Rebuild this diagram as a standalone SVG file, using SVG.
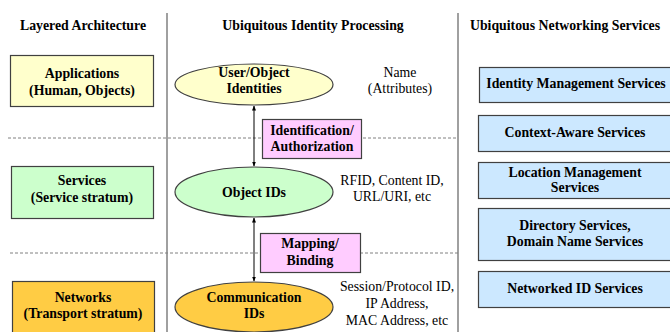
<svg xmlns="http://www.w3.org/2000/svg" width="670" height="332" viewBox="0 0 670 332">
<defs>
<marker id="ah" viewBox="0 0 10 10" refX="9" refY="5" markerWidth="5" markerHeight="5" orient="auto-start-reverse">
<path d="M0,1 L10,5 L0,9 z" fill="#000"/>
</marker>
<style>
text{font-family:"Liberation Serif","Times New Roman",serif;font-size:13.8px;fill:#000;text-anchor:middle}
.b{font-weight:bold}
.h{font-weight:bold;font-size:13.8px}
.box{stroke:#404040;stroke-width:1.2}
.yel{fill:#FFFFCC}.grn{fill:#CCFFCC}.org{fill:#FFCC44}.pnk{fill:#FFCCFF}.blu{fill:#CCE8FF}
.sep{stroke:#808080;stroke-width:1.5}
.dash{stroke:#808080;stroke-width:1;stroke-dasharray:3,2}
.conn{stroke:#000;stroke-width:1;fill:none;marker-start:url(#ah);marker-end:url(#ah)}
</style>
</defs>
<rect width="670" height="332" fill="#fff"/>
<g id="separators">
<line class="sep" x1="167" y1="13" x2="167" y2="332"/>
<line class="sep" x1="458" y1="13" x2="458" y2="332"/>
<line class="dash" x1="8" y1="138" x2="458" y2="138"/>
<line class="dash" x1="10" y1="253" x2="458" y2="253"/>
</g>
<g id="headings">
<text class="h" x="83" y="30">Layered Architecture</text>
<text class="h" x="313" y="30">Ubiquitous Identity Processing</text>
<text class="h" x="565" y="30">Ubiquitous Networking Services</text>
</g>
<g id="applications">
<rect class="box yel" x="10.5" y="55.5" width="143" height="51"/>
<text class="b" x="82" y="78">Applications</text>
<text class="b" x="82" y="95">(Human, Objects)</text>
</g>
<g id="services">
<rect class="box grn" x="11.5" y="166.5" width="142" height="52"/>
<text class="b" x="82" y="185">Services</text>
<text class="b" x="82" y="202">(Service stratum)</text>
</g>
<g id="networks">
<rect class="box org" x="12.5" y="281.5" width="142" height="56"/>
<text class="b" x="83" y="302">Networks</text>
<text class="b" x="83" y="318">(Transport stratum)</text>
</g>
<g id="connectors">
<line class="conn" x1="254" y1="106" x2="254" y2="166"/>
<line class="conn" x1="254" y1="218" x2="254" y2="281"/>
</g>
<g id="user-object-identities">
<ellipse class="box yel" cx="254" cy="84.5" rx="79" ry="20.5"/>
<text class="b" x="254" y="77">User/Object</text>
<text class="b" x="254" y="93">Identities</text>
</g>
<g id="object-ids">
<ellipse class="box grn" cx="254" cy="192" rx="79" ry="25"/>
<text class="b" x="254" y="197">Object IDs</text>
</g>
<g id="communication-ids">
<ellipse class="box org" cx="254" cy="307" rx="79" ry="25"/>
<text class="b" x="254" y="302">Communication</text>
<text class="b" x="254" y="318">IDs</text>
</g>
<g id="identification">
<rect class="box pnk" x="262.5" y="119.5" width="99" height="39"/>
<text class="b" x="312" y="135">Identification/</text>
<text class="b" x="312" y="151">Authorization</text>
</g>
<g id="mapping">
<rect class="box pnk" x="260.5" y="233.5" width="100" height="39"/>
<text class="b" x="310" y="248">Mapping/</text>
<text class="b" x="310" y="265">Binding</text>
</g>
<g id="labels">
<text x="400" y="77">Name</text>
<text x="400" y="93">(Attributes)</text>
<text x="392" y="185">RFID, Content ID,</text>
<text x="392" y="201">URL/URI,  etc</text>
<text x="397" y="291">Session/Protocol ID,</text>
<text x="397" y="308">IP Address,</text>
<text x="397" y="325">MAC Address, etc</text>
</g>
<g id="identity-management">
<rect class="box blu" x="479.5" y="67.5" width="195" height="35"/>
<text class="b" x="576" y="88">Identity Management Services</text>
</g>
<g id="context-aware">
<rect class="box blu" x="478.5" y="115.5" width="196" height="36"/>
<text class="b" x="575" y="137">Context-Aware Services</text>
</g>
<g id="location-management">
<rect class="box blu" x="478.5" y="162.5" width="196" height="36"/>
<text class="b" x="575" y="177">Location Management</text>
<text class="b" x="575" y="192">Services</text>
</g>
<g id="directory">
<rect class="box blu" x="478.5" y="208.5" width="196" height="52"/>
<text class="b" x="575" y="230">Directory Services,</text>
<text class="b" x="575" y="246">Domain Name Services</text>
</g>
<g id="networked-id">
<rect class="box blu" x="478.5" y="271.5" width="196" height="36"/>
<text class="b" x="575" y="293">Networked ID Services</text>
</g>
</svg>
